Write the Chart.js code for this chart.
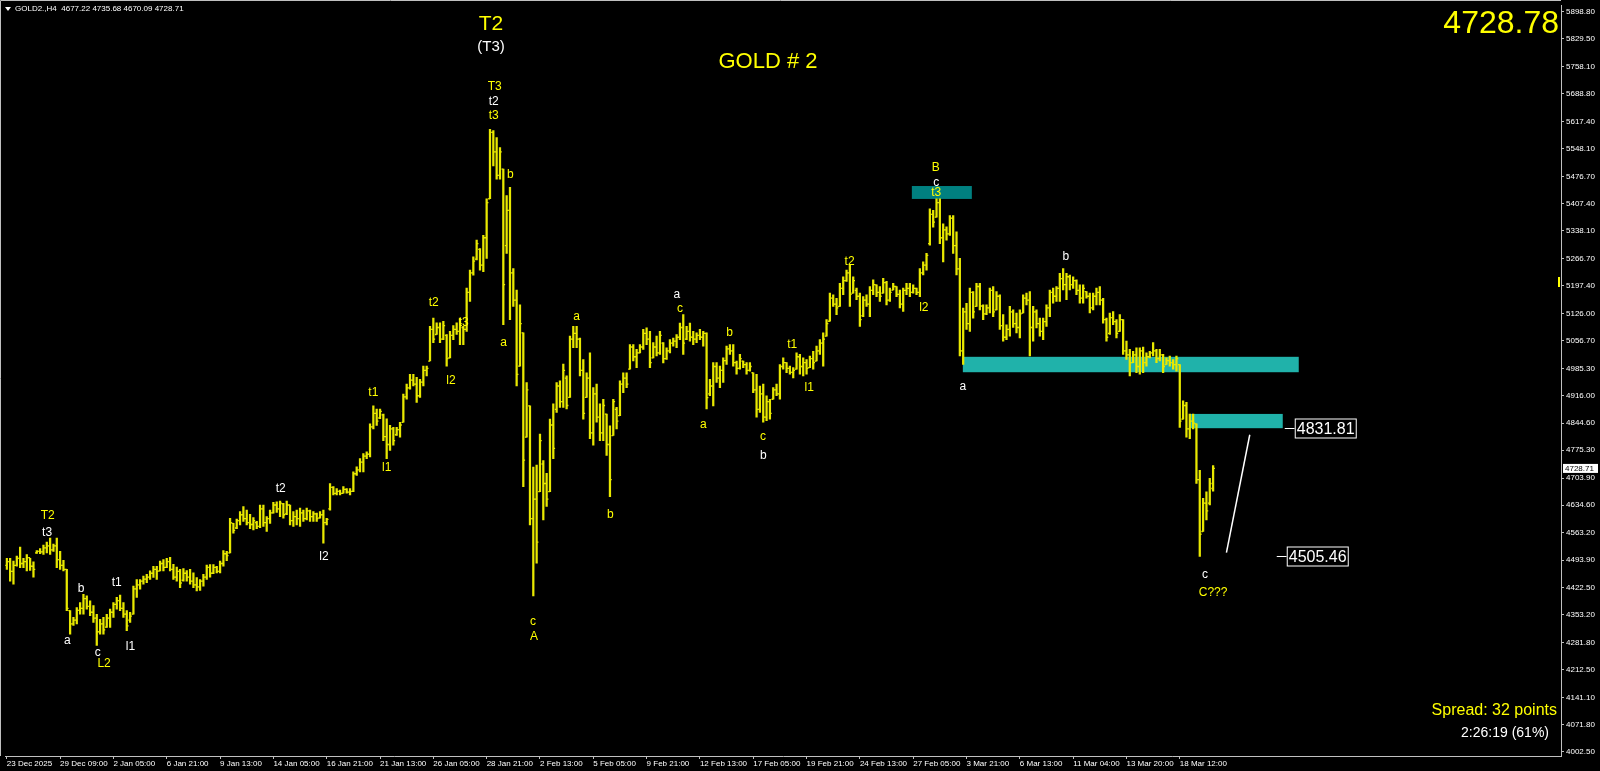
<!DOCTYPE html>
<html>
<head>
<meta charset="utf-8">
<script src="https://cdn.jsdelivr.net/npm/chart.js@4.4.1/dist/chart.umd.min.js"></script>
<style>
    html, body { margin: 0; padding: 0; background: #000; }
    canvas { display: block; }
</style>
</head>
<body>
<canvas id="goldChart" width="1600" height="771"></canvas>
<script>
// GOLD2 H4 bars (one value per bar)
const highs = [
    4498, 4498, 4491, 4504, 4527, 4498, 4508, 4498, 4489, 4518,
    4523, 4532, 4540, 4550, 4535, 4550, 4516, 4493, 4470, 4364,
    4347, 4372, 4385, 4406, 4402, 4389, 4377, 4355, 4342, 4347,
    4355, 4368, 4385, 4398, 4404, 4385, 4364, 4360, 4427, 4444,
    4444, 4453, 4457, 4466, 4478, 4478, 4491, 4495, 4498, 4501,
    4483, 4476, 4470, 4472, 4467, 4470, 4461, 4449, 4444, 4457,
    4481, 4482, 4482, 4478, 4491, 4518, 4516, 4601, 4588, 4599,
    4618, 4631, 4622, 4611, 4603, 4593, 4635, 4635, 4605, 4622,
    4642, 4643, 4645, 4639, 4645, 4635, 4618, 4622, 4627, 4622,
    4627, 4622, 4618, 4614, 4618, 4622, 4601, 4690, 4682, 4677,
    4673, 4682, 4677, 4677, 4720, 4733, 4754, 4767, 4771, 4843,
    4889, 4881, 4881, 4868, 4856, 4839, 4834, 4834, 4847, 4919,
    4945, 4970, 4970, 4962, 4957, 4991, 4991, 5093, 5114, 5102,
    5102, 5106, 5072, 5080, 5095, 5102, 5114, 5093, 5191, 5237,
    5271, 5314, 5292, 5326, 5420, 5598, 5595, 5577, 5551, 5496,
    5428, 5449, 5241, 5186, 5148, 5076, 4949, 4889, 4732, 4737,
    4817, 4749, 4716, 4855, 4894, 4949, 4953, 4996, 4966, 5068,
    5093, 5093, 5063, 5008, 4974, 5025, 4936, 4945, 4894, 4906,
    4868, 4838, 4906, 4885, 4953, 4974, 4974, 5046, 5046, 5034,
    5046, 5085, 5089, 5080, 5051, 5068, 5080, 5051, 5038, 5059,
    5063, 5072, 5101, 5123, 5093, 5101, 5080, 5076, 5085, 5080,
    5076, 4957, 5000, 5000, 4991, 5012, 5042, 5046, 5046, 5004,
    5021, 5004, 5000, 5000, 4974, 4970, 4940, 4945, 4915, 4906,
    4936, 4945, 4995, 5012, 5000, 4991, 4987, 5025, 5021, 5012,
    5008, 5017, 5029, 5042, 5059, 5076, 5110, 5178, 5174, 5165,
    5203, 5220, 5237, 5250, 5220, 5191, 5178, 5169, 5174, 5195,
    5212, 5199, 5195, 5216, 5208, 5191, 5203, 5195, 5186, 5191,
    5203, 5203, 5199, 5191, 5241, 5258, 5280, 5394, 5390, 5420,
    5420, 5356, 5348, 5377, 5377, 5335, 5267, 5140, 5152, 5191,
    5182, 5203, 5203, 5148, 5148, 5191, 5195, 5182, 5174, 5123,
    5097, 5144, 5135, 5127, 5135, 5174, 5178, 5182, 5144, 5135,
    5114, 5114, 5148, 5186, 5191, 5195, 5229, 5241, 5229, 5224,
    5220, 5212, 5199, 5199, 5182, 5178, 5178, 5191, 5195, 5165,
    5114, 5127, 5131, 5110, 5123, 5110, 5055, 5034, 5029, 5038,
    5038, 5040, 5025, 5029, 5051, 5034, 5034, 5021, 5012, 5017,
    5008, 5017, 4995, 4902, 4898, 4868, 4868, 4843, 4724, 4652,
    4669, 4703, 4735.68
];
const lows = [
    4470, 4440, 4432, 4478, 4474, 4474, 4466, 4467, 4450, 4511,
    4510, 4508, 4512, 4508, 4516, 4474, 4470, 4466, 4364, 4304,
    4326, 4330, 4355, 4355, 4368, 4351, 4334, 4275, 4304, 4304,
    4321, 4321, 4347, 4368, 4364, 4347, 4313, 4334, 4355, 4398,
    4419, 4432, 4436, 4444, 4449, 4444, 4466, 4466, 4474, 4466,
    4444, 4440, 4423, 4440, 4440, 4432, 4423, 4415, 4416, 4427,
    4444, 4450, 4459, 4461, 4461, 4478, 4492, 4512, 4563, 4574,
    4584, 4593, 4584, 4574, 4571, 4574, 4577, 4580, 4567, 4588,
    4614, 4616, 4605, 4601, 4610, 4584, 4580, 4584, 4580, 4593,
    4597, 4593, 4593, 4593, 4601, 4537, 4584, 4622, 4661, 4661,
    4661, 4665, 4665, 4661, 4669, 4711, 4720, 4720, 4754, 4758,
    4830, 4839, 4856, 4800, 4754, 4775, 4788, 4813, 4809, 4847,
    4906, 4932, 4940, 4898, 4911, 4940, 4966, 5004, 5051, 5072,
    5051, 5059, 4991, 5012, 5059, 5072, 5046, 5046, 5080, 5157,
    5224, 5263, 5237, 5233, 5267, 5420, 5504, 5470, 5470, 5097,
    5280, 5110, 5144, 4940, 4991, 4682, 4809, 4584, 4402, 4486,
    4669, 4597, 4631, 4669, 4754, 4872, 4885, 4885, 4881, 4911,
    5038, 5038, 4966, 4855, 4911, 4805, 4788, 4847, 4800, 4800,
    4762, 4656, 4813, 4830, 4864, 4923, 4936, 4983, 5004, 4987,
    5025, 5034, 5046, 4987, 5012, 5017, 5021, 4999, 5008, 5025,
    5042, 5038, 5059, 5021, 5059, 5055, 5046, 5051, 5059, 5042,
    4881, 4915, 4889, 4949, 4936, 4949, 4995, 5021, 4991, 4970,
    4983, 4987, 4970, 4978, 4923, 4860, 4872, 4847, 4851, 4855,
    4906, 4915, 4906, 4983, 4974, 4970, 4961, 4983, 4970, 4966,
    4970, 4987, 4983, 5004, 5021, 4991, 5068, 5106, 5144, 5123,
    5144, 5174, 5208, 5144, 5178, 5161, 5093, 5118, 5144, 5118,
    5174, 5169, 5157, 5178, 5148, 5157, 5186, 5169, 5140, 5131,
    5174, 5169, 5178, 5174, 5169, 5225, 5237, 5301, 5347, 5373,
    5305, 5258, 5314, 5326, 5280, 5225, 5017, 4995, 5085, 5080,
    5114, 5144, 5135, 5110, 5123, 5127, 5118, 5135, 5085, 5055,
    5059, 5068, 5090, 5076, 5063, 5127, 5148, 5017, 5055, 5089,
    5068, 5059, 5093, 5118, 5152, 5157, 5157, 5186, 5161, 5186,
    5190, 5174, 5152, 5152, 5165, 5127, 5135, 5148, 5148, 5101,
    5055, 5072, 5097, 5063, 5080, 5021, 5008, 4966, 5000, 4974,
    4970, 4974, 4991, 5012, 5017, 5000, 5004, 4974, 4995, 4991,
    4983, 4978, 4834, 4855, 4809, 4805, 4830, 4690, 4503, 4567,
    4597, 4635, 4670.09
];
const opens = [
    4480, 4490, 4465, 4480, 4498, 4485, 4490, 4500, 4478, 4512,
    4516, 4515, 4525, 4530, 4520, 4530, 4495, 4480, 4470, 4364,
    4330, 4340, 4365, 4370, 4395, 4375, 4360, 4345, 4310, 4330,
    4322, 4345, 4360, 4380, 4390, 4370, 4355, 4340, 4355, 4420,
    4430, 4440, 4445, 4450, 4460, 4470, 4466, 4485, 4475, 4490,
    4470, 4450, 4465, 4442, 4460, 4450, 4440, 4430, 4425, 4440,
    4450, 4475, 4460, 4475, 4465, 4485, 4510, 4512, 4588, 4576,
    4595, 4610, 4600, 4590, 4585, 4590, 4580, 4625, 4590, 4600,
    4615, 4635, 4625, 4638, 4612, 4635, 4595, 4605, 4600, 4615,
    4600, 4620, 4605, 4612, 4602, 4610, 4590, 4625, 4680, 4665,
    4670, 4665, 4675, 4668, 4670, 4715, 4725, 4745, 4760, 4765,
    4835, 4870, 4858, 4866, 4810, 4790, 4830, 4815, 4828, 4847,
    4912, 4935, 4955, 4945, 4915, 4950, 4980, 5004, 5085, 5072,
    5090, 5060, 5070, 5012, 5070, 5085, 5080, 5090, 5085, 5180,
    5230, 5265, 5290, 5250, 5320, 5420, 5590, 5540, 5480, 5496,
    5300, 5390, 5230, 5160, 4991, 5076, 4809, 4889, 4600, 4650,
    4669, 4740, 4690, 4669, 4840, 4880, 4940, 4900, 4960, 4911,
    5060, 5075, 5060, 4980, 4911, 4960, 4820, 4920, 4860, 4820,
    4868, 4790, 4813, 4880, 4864, 4945, 4960, 4983, 5040, 5015,
    5025, 5040, 5075, 5060, 5012, 5040, 5025, 5050, 5010, 5030,
    5050, 5055, 5065, 5090, 5060, 5080, 5065, 5060, 5070, 5065,
    5075, 4920, 4940, 4990, 4960, 4980, 5005, 5035, 5030, 5000,
    4985, 5004, 4995, 4980, 4974, 4930, 4880, 4920, 4860, 4900,
    4906, 4930, 4920, 4990, 5000, 4985, 4975, 4983, 5015, 4990,
    5000, 4987, 5010, 5004, 5030, 5050, 5068, 5106, 5165, 5150,
    5144, 5190, 5210, 5230, 5178, 5185, 5170, 5120, 5160, 5150,
    5185, 5199, 5180, 5178, 5205, 5160, 5186, 5195, 5175, 5150,
    5185, 5190, 5180, 5190, 5180, 5230, 5250, 5305, 5380, 5373,
    5410, 5320, 5340, 5330, 5370, 5300, 5240, 5030, 5130, 5100,
    5180, 5144, 5195, 5145, 5125, 5140, 5185, 5135, 5170, 5095,
    5065, 5085, 5130, 5100, 5090, 5127, 5165, 5160, 5090, 5130,
    5100, 5080, 5105, 5140, 5180, 5170, 5190, 5215, 5200, 5220,
    5200, 5210, 5185, 5165, 5182, 5170, 5140, 5170, 5180, 5160,
    5110, 5075, 5115, 5105, 5080, 5110, 5030, 5020, 5000, 5020,
    4990, 5030, 5000, 5015, 5025, 5030, 5010, 5020, 4995, 5005,
    5000, 4995, 4995, 4855, 4890, 4830, 4850, 4843, 4700, 4567,
    4640, 4640, 4677.22
];
const closes = [
    4490, 4465, 4480, 4498, 4485, 4490, 4500, 4478, 4470, 4516,
    4515, 4525, 4530, 4520, 4530, 4495, 4480, 4470, 4370, 4330,
    4340, 4365, 4370, 4395, 4375, 4360, 4345, 4310, 4330, 4315,
    4345, 4360, 4380, 4390, 4370, 4355, 4325, 4350, 4420, 4430,
    4440, 4445, 4450, 4460, 4470, 4465, 4485, 4475, 4490, 4470,
    4450, 4465, 4435, 4460, 4450, 4440, 4430, 4425, 4440, 4450,
    4475, 4460, 4475, 4465, 4485, 4510, 4505, 4590, 4570, 4595,
    4610, 4600, 4590, 4585, 4595, 4580, 4625, 4590, 4600, 4615,
    4635, 4625, 4640, 4610, 4635, 4595, 4605, 4600, 4615, 4600,
    4620, 4605, 4612, 4600, 4610, 4590, 4598, 4680, 4665, 4670,
    4665, 4675, 4668, 4670, 4715, 4725, 4745, 4760, 4765, 4835,
    4870, 4850, 4875, 4810, 4790, 4830, 4800, 4828, 4840, 4912,
    4935, 4955, 4945, 4915, 4950, 4980, 4985, 5085, 5060, 5090,
    5060, 5095, 5010, 5070, 5085, 5080, 5100, 5085, 5180, 5230,
    5260, 5305, 5250, 5320, 5410, 5590, 5540, 5480, 5540, 5200,
    5390, 5230, 5160, 4970, 5100, 4750, 4930, 4600, 4650, 4540,
    4800, 4690, 4650, 4840, 4780, 4940, 4900, 4980, 4890, 5060,
    5075, 5060, 4980, 4870, 4960, 4820, 4920, 4860, 4820, 4890,
    4790, 4700, 4900, 4850, 4945, 4960, 4945, 5040, 5015, 5025,
    5040, 5075, 5060, 5000, 5040, 5025, 5070, 5010, 5030, 5050,
    5055, 5065, 5090, 5050, 5080, 5065, 5060, 5070, 5065, 5075,
    4910, 4940, 4990, 4960, 4980, 5005, 5035, 5030, 5000, 4985,
    5010, 4995, 4980, 4990, 4930, 4880, 4920, 4860, 4900, 4870,
    4930, 4920, 4990, 5000, 4985, 4975, 4980, 5015, 4990, 5000,
    4985, 5010, 5000, 5030, 5050, 5060, 5100, 5165, 5150, 5140,
    5190, 5210, 5230, 5175, 5210, 5170, 5110, 5160, 5150, 5185,
    5200, 5180, 5170, 5205, 5160, 5180, 5195, 5175, 5150, 5185,
    5190, 5180, 5190, 5180, 5230, 5250, 5275, 5380, 5360, 5410,
    5320, 5340, 5330, 5370, 5300, 5240, 5030, 5130, 5100, 5180,
    5130, 5195, 5145, 5125, 5140, 5185, 5130, 5170, 5095, 5065,
    5085, 5130, 5100, 5090, 5125, 5165, 5160, 5090, 5130, 5100,
    5080, 5105, 5140, 5180, 5170, 5190, 5215, 5200, 5220, 5200,
    5210, 5185, 5165, 5190, 5170, 5140, 5170, 5180, 5160, 5110,
    5065, 5115, 5105, 5075, 5110, 5030, 5020, 5000, 5020, 4990,
    5030, 5000, 5015, 5025, 5030, 5010, 5020, 4990, 5005, 5000,
    4995, 5010, 4850, 4890, 4830, 4850, 4845, 4700, 4560, 4640,
    4620, 4690, 4728.71
];

// time axis: one label every 16 bars
const dateTickIdx = [0, 16, 32, 48, 64, 80, 96, 112, 128, 144, 160, 176,
    192, 208, 224, 240, 256, 272, 288, 304, 320, 336, 352];
const dateLabels = ['23 Dec 2025', '29 Dec 09:00', '2 Jan 05:00', '6 Jan 21:00',
    '9 Jan 13:00', '14 Jan 05:00', '16 Jan 21:00', '21 Jan 13:00', '26 Jan 05:00',
    '28 Jan 21:00', '2 Feb 13:00', '5 Feb 05:00', '9 Feb 21:00', '12 Feb 13:00',
    '17 Feb 05:00', '19 Feb 21:00', '24 Feb 13:00', '27 Feb 05:00', '3 Mar 21:00',
    '6 Mar 13:00', '11 Mar 04:00', '13 Mar 20:00', '18 Mar 12:00'];

const priceTicks = [5898.80, 5829.50, 5758.10, 5688.80, 5617.40, 5548.10, 5476.70,
    5407.40, 5338.10, 5266.70, 5197.40, 5126.00, 5056.70, 4985.30, 4916.00, 4844.60,
    4775.30, 4703.90, 4634.60, 4563.20, 4493.90, 4422.50, 4353.20, 4281.80, 4212.50,
    4141.10, 4071.80, 4002.50];

const bidPrice = 4728.71;
const headerText = 'GOLD2.,H4  4677.22 4735.68 4670.09 4728.71';

const WHITE = '#ffffff';
const YELLOW = '#ffff00';
const BAR_COLOR = 'rgb(232,232,0)';

// wave labels: text, bar index, price, colour
const waveLabels = [
    ['T2', 12.3, 4608, YELLOW], ['t3', 12.1, 4565, WHITE], ['b', 22.3, 4421, WHITE],
    ['a', 18.2, 4287, WHITE], ['c', 27.3, 4256, WHITE], ['L2', 29.2, 4229, YELLOW],
    ['t1', 33.0, 4437, WHITE], ['l1', 37.1, 4271, WHITE], ['t2', 82.2, 4677, WHITE],
    ['l2', 95.2, 4503, WHITE], ['t1', 110.0, 4923, YELLOW], ['l1', 114.0, 4730, YELLOW],
    ['t2', 128.1, 5154, YELLOW], ['l2', 133.3, 4954, YELLOW], ['t3', 137.1, 5101, YELLOW],
    ['T3', 146.4, 5708, YELLOW], ['t2', 146.1, 5669, WHITE], ['t3', 146.1, 5634, YELLOW],
    ['b', 151.1, 5481, YELLOW], ['a', 149.1, 5052, YELLOW], ['a', 171.0, 5117, YELLOW],
    ['c', 157.9, 4337, YELLOW], ['A', 158.2, 4298, YELLOW], ['b', 181.1, 4609, YELLOW],
    ['a', 201.1, 5173, WHITE], ['c', 202.0, 5139, YELLOW], ['b', 216.9, 5076, YELLOW],
    ['a', 209.0, 4841, YELLOW], ['c', 226.9, 4809, YELLOW], ['b', 227.0, 4762, WHITE],
    ['t1', 235.7, 5046, YELLOW], ['l1', 240.8, 4936, YELLOW], ['t2', 252.9, 5258, YELLOW],
    ['l2', 275.2, 5142, YELLOW], ['B', 278.8, 5500, YELLOW], ['c', 278.9, 5462, WHITE],
    ['t3', 278.9, 5435, YELLOW], ['a', 286.9, 4938, WHITE], ['b', 317.8, 5271, WHITE],
    ['c', 359.6, 4456, WHITE], ['C???', 362.0, 4409, YELLOW]
];

// rectangles drawn behind the bars
const zones = [
    { from: 271.6, to: 289.6, top: 5452.6, bottom: 5419.5, color: 'rgb(0,128,128)' },
    { from: 286.9, to: 387.7, top: 5014.8, bottom: 4975.3, color: 'rgb(32,178,170)' },
    { from: 355.1, to: 382.9, top: 4868.4, bottom: 4831.81, color: 'rgb(32,178,170)' }
];

const priceTags = [
    { price: 4831.81, from: 383.5, to: 386.5 },
    { price: 4505.46, from: 381.1, to: 384.1 }
];

const trendLine = [{ x: 366.0, y: 4513 }, { x: 373.0, y: 4815 }];

const FONT = '"Liberation Sans", Arial, sans-serif';

const mt4Overlay = {
    id: 'mt4Overlay',
    beforeDraw(chart) {
        const ctx = chart.ctx;
        ctx.save();
        ctx.fillStyle = '#000';
        ctx.fillRect(0, 0, chart.width, chart.height);
        ctx.restore();
    },
    beforeDatasetsDraw(chart) {
        const { ctx, scales: { x, y } } = chart;
        ctx.save();
        zones.forEach(z => {
            const x0 = x.getPixelForValue(z.from);
            const x1 = x.getPixelForValue(z.to);
            const y0 = y.getPixelForValue(z.top);
            const y1 = y.getPixelForValue(z.bottom);
            ctx.fillStyle = z.color;
            ctx.fillRect(x0, y0, x1 - x0, y1 - y0);
        });
        ctx.restore();
    },
    afterDraw(chart) {
        const { ctx, scales: { x, y }, chartArea } = chart;
        ctx.save();

        // window frame on the left and top
        ctx.strokeStyle = '#c0c0c0';
        ctx.lineWidth = 1;
        ctx.beginPath();
        ctx.moveTo(0.5, chartArea.bottom);
        ctx.lineTo(0.5, 0.5);
        ctx.lineTo(chartArea.right, 0.5);
        ctx.stroke();

        // header line
        ctx.fillStyle = WHITE;
        ctx.beginPath();
        ctx.moveTo(5, 7); ctx.lineTo(11, 7); ctx.lineTo(8, 11); ctx.closePath();
        ctx.fill();
        ctx.font = '8px ' + FONT;
        ctx.textBaseline = 'middle';
        ctx.textAlign = 'left';
        ctx.fillText(headerText, 15, 9);

        // wave labels
        ctx.font = '12px ' + FONT;
        ctx.textAlign = 'center';
        waveLabels.forEach(([txt, idx, price, color]) => {
            ctx.fillStyle = color;
            ctx.fillText(txt, x.getPixelForValue(idx), y.getPixelForValue(price));
        });

        ctx.fillStyle = YELLOW;
        ctx.font = '21px ' + FONT;
        ctx.fillText('T2', 491, 24);
        ctx.font = '22px ' + FONT;
        ctx.fillText('GOLD # 2', 768, 62);
        ctx.fillStyle = WHITE;
        ctx.font = '15px ' + FONT;
        ctx.fillText('(T3)', 491, 47);

        // price tags with leader line
        priceTags.forEach(t => {
            const py = Math.round(y.getPixelForValue(t.price)) + 0.5;
            const x0 = x.getPixelForValue(t.from);
            const x1 = x.getPixelForValue(t.to);
            ctx.strokeStyle = WHITE;
            ctx.lineWidth = 1;
            ctx.beginPath();
            ctx.moveTo(x0, py); ctx.lineTo(x1, py);
            ctx.stroke();
            ctx.fillStyle = '#000';
            ctx.fillRect(x1, py - 10, 62, 20);
            ctx.strokeRect(x1 + 0.5, py - 9.5, 61, 19);
            ctx.fillStyle = WHITE;
            ctx.font = '16px ' + FONT;
            ctx.textAlign = 'left';
            ctx.fillText(t.price.toFixed(2), x1 + 2, py + 1);
        });

        // big price, spread and timer
        ctx.textAlign = 'right';
        ctx.fillStyle = YELLOW;
        ctx.font = '32px ' + FONT;
        ctx.textBaseline = 'alphabetic';
        ctx.fillText('4728.78', 1559, 33);
        ctx.textBaseline = 'middle';
        ctx.font = '16px ' + FONT;
        ctx.fillText('Spread: 32 points', 1557, 711);
        ctx.fillStyle = WHITE;
        ctx.font = '14px ' + FONT;
        ctx.fillText('2:26:19 (61%)', 1549, 733);

        // small marker at the right edge
        ctx.fillStyle = YELLOW;
        ctx.fillRect(chartArea.right - 3, 277, 2, 10);

        // bid label on the price scale
        const by = y.getPixelForValue(bidPrice);
        ctx.fillStyle = WHITE;
        ctx.fillRect(chartArea.right + 2, by - 4.5, 35, 9);
        ctx.fillStyle = '#000';
        ctx.font = '8px ' + FONT;
        ctx.textAlign = 'left';
        ctx.fillText(bidPrice.toFixed(2), chartArea.right + 4, by + 0.5);

        ctx.restore();
    }
};

const ctx = document.getElementById('goldChart').getContext('2d');
new Chart(ctx, {
    type: 'bar',
    data: {
        datasets: [
            {
                type: 'bar',
                data: highs.map((h, i) => ({ x: i, y: [lows[i], h] })),
                backgroundColor: BAR_COLOR,
                borderWidth: 0,
                barThickness: 1.6,
                grouped: false,
                order: 2
            },
            {
                type: 'scatter',
                data: opens.map((o, i) => ({ x: i - 0.27, y: o })),
                pointStyle: 'line',
                radius: 0.9,
                borderColor: BAR_COLOR,
                borderWidth: 1.3,
                order: 1
            },
            {
                type: 'scatter',
                data: closes.map((c, i) => ({ x: i + 0.27, y: c })),
                pointStyle: 'line',
                radius: 0.9,
                borderColor: BAR_COLOR,
                borderWidth: 1.3,
                order: 1
            },
            {
                type: 'line',
                data: trendLine,
                borderColor: WHITE,
                borderWidth: 1.5,
                pointRadius: 0,
                order: 0
            }
        ]
    },
    options: {
        responsive: false,
        devicePixelRatio: 1,
        animation: false,
        events: [],
        layout: { padding: 0 },
        plugins: { legend: { display: false }, tooltip: { enabled: false } },
        scales: {
            x: {
                type: 'linear',
                position: 'bottom',
                min: -0.449,
                max: 466.4,
                bounds: 'data',
                offset: false,
                afterBuildTicks: scale => { scale.ticks = dateTickIdx.map(v => ({ value: v })); },
                afterFit: scale => {
                    scale.height = 15;
                    scale.paddingLeft = 0;
                    scale.paddingRight = 0;
                },
                ticks: {
                    autoSkip: false,
                    maxRotation: 0,
                    align: 'start',
                    labelOffset: 0,
                    padding: 0,
                    color: WHITE,
                    font: { family: FONT, size: 8 },
                    callback: v => dateLabels[dateTickIdx.indexOf(v)] || ''
                },
                grid: { drawOnChartArea: false, drawTicks: true, tickLength: 3, offset: false, color: '#c0c0c0' },
                border: { color: '#c0c0c0' }
            },
            y: {
                type: 'linear',
                position: 'right',
                min: 3991.55,
                max: 5915.85,
                bounds: 'data',
                afterBuildTicks: scale => { scale.ticks = priceTicks.map(v => ({ value: v })); },
                afterFit: scale => {
                    scale.width = 39;
                    scale.paddingTop = 0;
                    scale.paddingBottom = 0;
                },
                ticks: {
                    autoSkip: false,
                    padding: 2,
                    color: WHITE,
                    font: { family: FONT, size: 8 },
                    callback: v => v.toFixed(2)
                },
                grid: { drawOnChartArea: false, drawTicks: true, tickLength: 3, color: '#c0c0c0' },
                border: { color: '#c0c0c0' }
            }
        }
    },
    plugins: [mt4Overlay]
});
</script>
</body>
</html>
